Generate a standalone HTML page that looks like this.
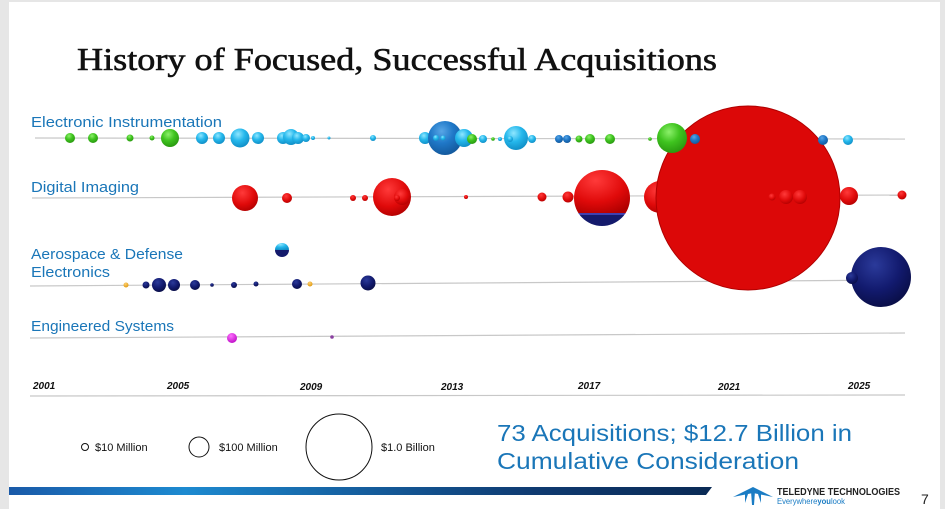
<!DOCTYPE html>
<html><head><meta charset="utf-8"><style>
html,body{margin:0;padding:0;background:#fff;}
svg{display:block;}
</style></head><body>
<svg width="945" height="509" viewBox="0 0 945 509" xmlns="http://www.w3.org/2000/svg">
<defs>
<radialGradient id="gG" cx="40%" cy="30%" r="70%"><stop offset="0" stop-color="#8cf06a"/><stop offset=".5" stop-color="#3fc41f"/><stop offset="1" stop-color="#2a9a10"/></radialGradient>
<radialGradient id="gC" cx="40%" cy="30%" r="70%"><stop offset="0" stop-color="#8fe6ff"/><stop offset=".5" stop-color="#25b8ec"/><stop offset="1" stop-color="#1190c8"/></radialGradient>
<radialGradient id="gB" cx="40%" cy="30%" r="70%"><stop offset="0" stop-color="#58a6e6"/><stop offset=".5" stop-color="#1f78c8"/><stop offset="1" stop-color="#145a9e"/></radialGradient>
<radialGradient id="gR" cx="40%" cy="30%" r="75%"><stop offset="0" stop-color="#ff3a3a"/><stop offset=".6" stop-color="#e00a0a"/><stop offset="1" stop-color="#b00000"/></radialGradient>
<radialGradient id="gN" cx="40%" cy="30%" r="70%"><stop offset="0" stop-color="#2b3a9a"/><stop offset=".6" stop-color="#121a6e"/><stop offset="1" stop-color="#0a0f4a"/></radialGradient>
<radialGradient id="gO" cx="40%" cy="30%" r="70%"><stop offset="0" stop-color="#ffd070"/><stop offset="1" stop-color="#e09a10"/></radialGradient>
<radialGradient id="gM" cx="40%" cy="30%" r="70%"><stop offset="0" stop-color="#ff70ff"/><stop offset="1" stop-color="#c010c8"/></radialGradient>
<linearGradient id="bar" x1="0" x2="1"><stop offset="0" stop-color="#1a5aa8"/><stop offset=".25" stop-color="#1d8ad0"/><stop offset=".5" stop-color="#155e9e"/><stop offset=".75" stop-color="#0f3a70"/><stop offset="1" stop-color="#0a2a55"/></linearGradient>
<clipPath id="cp1"><circle cx="602" cy="198" r="28"/></clipPath>
<clipPath id="cp2"><circle cx="282" cy="250" r="7"/></clipPath>
</defs>
<rect width="945" height="509" fill="#fff"/>
<rect x="0" y="0" width="9" height="509" fill="#e6e6e6"/>
<rect x="940" y="0" width="5" height="509" fill="#e6e6e6"/>
<rect x="0" y="0" width="945" height="2" fill="#e6e6e6"/>

<text x="77" y="70" font-family="Liberation Serif, serif" font-size="32" fill="#111" stroke="#111" stroke-width="0.6" textLength="640" lengthAdjust="spacingAndGlyphs">History of Focused, Successful Acquisitions</text>

<g font-family="Liberation Sans, sans-serif" font-size="15" fill="#1a76b8" lengthAdjust="spacingAndGlyphs">
<text x="31" y="127" textLength="191" lengthAdjust="spacingAndGlyphs">Electronic Instrumentation</text>
<text x="31" y="192" textLength="108" lengthAdjust="spacingAndGlyphs">Digital Imaging</text>
<text x="31" y="259" textLength="152" lengthAdjust="spacingAndGlyphs">Aerospace &amp; Defense</text>
<text x="31" y="277" textLength="79" lengthAdjust="spacingAndGlyphs">Electronics</text>
<text x="31" y="331" textLength="143" lengthAdjust="spacingAndGlyphs">Engineered Systems</text>
</g>

<g stroke="#c8c8c8" stroke-width="1.2">
<line x1="35" y1="138" x2="905" y2="139"/>
<line x1="32" y1="198" x2="905" y2="195"/>
<line x1="30" y1="286" x2="905" y2="280"/>
<line x1="30" y1="338" x2="905" y2="333"/>
<line x1="30" y1="396" x2="905" y2="395"/>
</g>

<g>
<circle cx="70" cy="138" r="5" fill="url(#gG)"/>
<circle cx="93" cy="138" r="5" fill="url(#gG)"/>
<circle cx="130" cy="138" r="3.5" fill="url(#gG)"/>
<circle cx="152" cy="138" r="2.5" fill="url(#gG)"/>
<circle cx="170" cy="138" r="9" fill="url(#gG)"/>
<circle cx="202" cy="138" r="6" fill="url(#gC)"/>
<circle cx="219" cy="138" r="6" fill="url(#gC)"/>
<circle cx="240" cy="138" r="9.5" fill="url(#gC)"/>
<circle cx="258" cy="138" r="6" fill="url(#gC)"/>
<circle cx="283" cy="138" r="6" fill="url(#gC)"/>
<circle cx="291" cy="137" r="8" fill="url(#gC)"/>
<circle cx="298" cy="138" r="6" fill="url(#gC)"/>
<circle cx="306" cy="138" r="4" fill="url(#gC)"/>
<circle cx="313" cy="138" r="2" fill="url(#gC)"/>
<circle cx="329" cy="138" r="1.5" fill="url(#gC)"/>
<circle cx="373" cy="138" r="3" fill="url(#gC)"/>
<circle cx="425" cy="138" r="6" fill="url(#gC)"/>
<circle cx="445" cy="138" r="17" fill="url(#gB)"/>
<circle cx="436" cy="138" r="3" fill="url(#gC)"/>
<circle cx="443" cy="138" r="2.5" fill="url(#gC)"/>
<circle cx="464" cy="138" r="9" fill="url(#gC)"/>
<circle cx="472" cy="139" r="5" fill="url(#gG)"/>
<circle cx="483" cy="139" r="4" fill="url(#gC)"/>
<circle cx="493" cy="139" r="1.8" fill="url(#gG)"/>
<circle cx="500" cy="139" r="2" fill="url(#gC)"/>
<circle cx="516" cy="138" r="12" fill="url(#gC)"/>
<circle cx="510" cy="139" r="3" fill="url(#gC)"/>
<circle cx="532" cy="139" r="4" fill="url(#gC)"/>
<circle cx="559" cy="139" r="4" fill="url(#gB)"/>
<circle cx="567" cy="139" r="4" fill="url(#gB)"/>
<circle cx="579" cy="139" r="3.5" fill="url(#gG)"/>
<circle cx="590" cy="139" r="5" fill="url(#gG)"/>
<circle cx="610" cy="139" r="5" fill="url(#gG)"/>
<circle cx="650" cy="139" r="1.8" fill="url(#gG)"/>
</g>

<g>
<circle cx="245" cy="198" r="13" fill="url(#gR)"/>
<circle cx="287" cy="198" r="5" fill="url(#gR)"/>
<circle cx="353" cy="198" r="3" fill="url(#gR)"/>
<circle cx="365" cy="198" r="3" fill="url(#gR)"/>
<circle cx="392" cy="197" r="19" fill="url(#gR)"/>
<circle cx="402" cy="197" r="8" fill="url(#gR)"/>
<circle cx="397" cy="198" r="3" fill="url(#gR)"/>
<circle cx="466" cy="197" r="2" fill="url(#gR)"/>
<circle cx="542" cy="197" r="4.5" fill="url(#gR)"/>
<circle cx="568" cy="197" r="5.5" fill="url(#gR)"/>
<g clip-path="url(#cp1)">
<rect x="570" y="166" width="64" height="48" fill="url(#gR)"/>
<rect x="570" y="213" width="64" height="2" fill="#4040b0"/>
<rect x="570" y="215" width="64" height="14" fill="#141a6c"/>
</g>
<circle cx="660" cy="197" r="16" fill="url(#gR)"/>
<circle cx="676" cy="197" r="5" fill="url(#gR)"/>
<circle cx="748" cy="198" r="92" fill="#dc0808" stroke="#b00000" stroke-width="1"/>
<circle cx="772" cy="197" r="3.5" fill="url(#gR)"/>
<circle cx="786" cy="197" r="7" fill="url(#gR)"/>
<circle cx="800" cy="197" r="7" fill="url(#gR)"/>
<circle cx="849" cy="196" r="9" fill="url(#gR)"/>
<circle cx="902" cy="195" r="4.5" fill="url(#gR)"/>
</g>

<circle cx="672" cy="138" r="15" fill="url(#gG)"/>
<circle cx="695" cy="139" r="5" fill="url(#gB)"/>
<circle cx="823" cy="140" r="5" fill="url(#gB)"/>
<circle cx="848" cy="140" r="5" fill="url(#gC)"/>

<g>
<g clip-path="url(#cp2)">
<rect x="274" y="242" width="16" height="8" fill="url(#gC)"/>
<rect x="274" y="250" width="16" height="9" fill="#141a6c"/>
</g>
<circle cx="126" cy="285" r="2.5" fill="url(#gO)"/>
<circle cx="146" cy="285" r="3.5" fill="url(#gN)"/>
<circle cx="159" cy="285" r="7" fill="url(#gN)"/>
<circle cx="174" cy="285" r="6" fill="url(#gN)"/>
<circle cx="195" cy="285" r="5" fill="url(#gN)"/>
<circle cx="212" cy="285" r="1.8" fill="url(#gN)"/>
<circle cx="234" cy="285" r="3" fill="url(#gN)"/>
<circle cx="256" cy="284" r="2.5" fill="url(#gN)"/>
<circle cx="297" cy="284" r="5" fill="url(#gN)"/>
<circle cx="310" cy="284" r="2.5" fill="url(#gO)"/>
<circle cx="368" cy="283" r="7.5" fill="url(#gN)"/>
<circle cx="881" cy="277" r="30" fill="url(#gN)"/>
<circle cx="852" cy="278" r="6" fill="url(#gN)"/>
</g>

<circle cx="232" cy="338" r="5" fill="url(#gM)"/>
<circle cx="332" cy="337" r="1.8" fill="#8a40a0"/>

<g font-family="Liberation Sans, sans-serif" font-size="10" font-weight="bold" font-style="italic" fill="#111">
<text x="33" y="389">2001</text>
<text x="167" y="389">2005</text>
<text x="300" y="390">2009</text>
<text x="441" y="390">2013</text>
<text x="578" y="389">2017</text>
<text x="718" y="390">2021</text>
<text x="848" y="389">2025</text>
</g>

<g fill="none" stroke="#111" stroke-width="1">
<circle cx="85" cy="447" r="3.5"/>
<circle cx="199" cy="447" r="10"/>
<circle cx="339" cy="447" r="33"/>
</g>
<g font-family="Liberation Sans, sans-serif" font-size="11" fill="#111">
<text x="95" y="451">$10 Million</text>
<text x="219" y="451">$100 Million</text>
<text x="381" y="451">$1.0 Billion</text>
</g>
<g font-family="Liberation Sans, sans-serif" font-size="23" fill="#1a76b8">
<text x="497" y="441" textLength="355" lengthAdjust="spacingAndGlyphs">73 Acquisitions; $12.7 Billion in</text>
<text x="497" y="469" textLength="302" lengthAdjust="spacingAndGlyphs">Cumulative Consideration</text>
</g>

<polygon points="9,487 712,487 706,495 9,495" fill="url(#bar)"/>
<g fill="#1a7cc4">
<polygon points="753,487 733,497 753,493"/>
<polygon points="753,487 773,497 753,493"/>
<polygon points="751,491 755,491 754,505 752,505"/>
<polygon points="745,494 748,494 745,503"/>
<polygon points="758,494 761,494 761,503"/>
</g>
<text x="777" y="495" font-family="Liberation Sans, sans-serif" font-size="10.5" font-weight="bold" fill="#222" textLength="123" lengthAdjust="spacingAndGlyphs">TELEDYNE TECHNOLOGIES</text>
<text x="777" y="504" font-family="Liberation Sans, sans-serif" font-size="8" fill="#1a7cc4" textLength="68" lengthAdjust="spacingAndGlyphs">Everywhere<tspan font-weight="bold">you</tspan>look</text>
<text x="921" y="504" font-family="Liberation Sans, sans-serif" font-size="14" fill="#222">7</text>
</svg>
</body></html>
